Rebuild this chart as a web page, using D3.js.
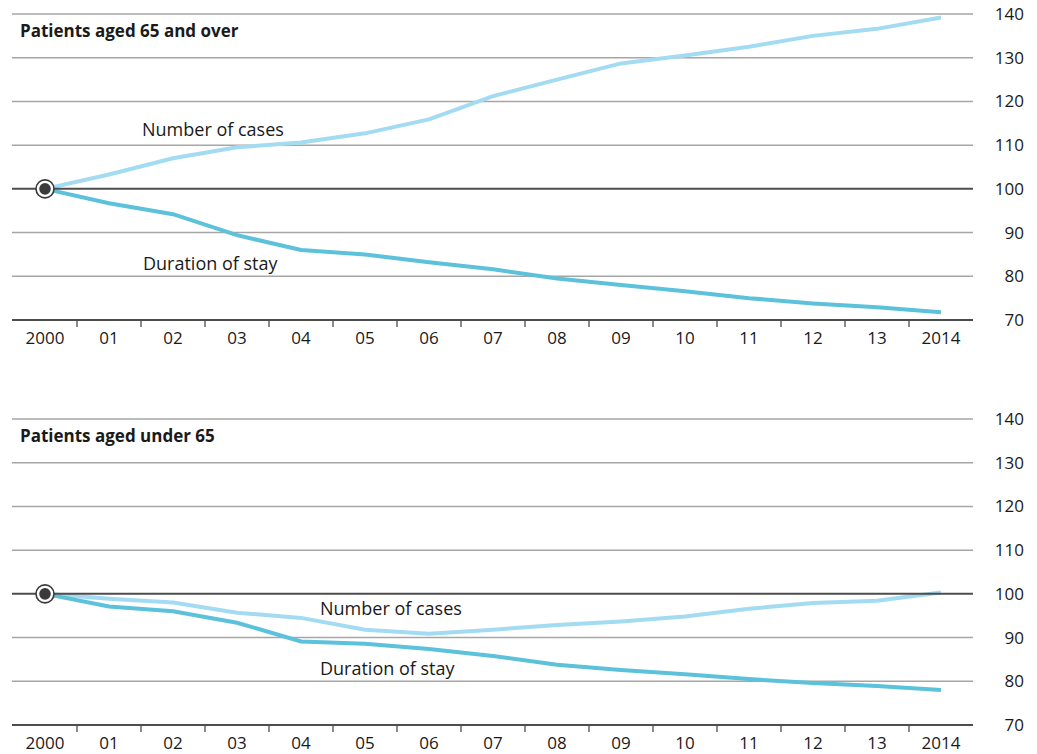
<!DOCTYPE html>
<html><head><meta charset="utf-8">
<script src="https://cdn.jsdelivr.net/npm/d3@7"></script>
<style>body{margin:0;background:#fff}svg{display:block}text{font-family:"Open Sans","Noto Sans",sans-serif;fill:#1a1a1a}</style>
</head><body><svg id="c" width="1037" height="754"></svg>
<script>
const years = ["2000","01","02","03","04","05","06","07","08","09","10","11","12","13","2014"];
const yTicks = [70,80,90,100,110,120,130,140];
const overCases = [100,103.3,107,109.5,110.6,112.7,115.9,121.2,125,128.7,130.5,132.5,135,136.6,139.2];
const overStay  = [100,96.7,94.2,89.4,86,85,83.2,81.6,79.5,78,76.6,75,73.8,72.9,71.8];
const underCases= [100,98.9,98,95.7,94.5,91.8,90.9,91.8,92.9,93.7,94.8,96.6,97.9,98.4,100.3];
const underStay = [100,97.1,96,93.4,89.1,88.6,87.4,85.8,83.8,82.6,81.6,80.5,79.6,78.9,78];
const panels = [
  {title:"Patients aged 65 and over", cases:overCases, stay:overStay, top:14, casesLbl:[142,136], stayLbl:[143,270]},
  {title:"Patients aged under 65", cases:underCases, stay:underStay, top:419, casesLbl:[320,615], stayLbl:[320,675]}
];
const svg = d3.select("#c");
const x = d3.scaleBand().domain(years).range([13,973]).padding(0);
const cx = d => x(d)+x.bandwidth()/2;
panels.forEach(p=>{
  const y = d3.scaleLinear().domain([70,140]).range([p.top+306,p.top]);
  const g = svg.append("g");
  g.selectAll("line.grid").data(yTicks.filter(t=>t!==70 && t!==100)).join("line")
    .attr("x1",12).attr("x2",973).attr("y1",d=>y(d)).attr("y2",d=>y(d))
    .attr("stroke","#a6a6a6").attr("stroke-width",1.5);
  g.selectAll("text.yl").data(yTicks).join("text")
    .attr("x",1024).attr("y",d=>y(d)+6).attr("text-anchor","end")
    .attr("font-size",17).text(d=>d);
  g.append("text").attr("x",20).attr("y",p.top+23).attr("font-size",17).attr("font-weight","bold").text(p.title);
  const line = d3.line().x((d,i)=>cx(years[i])).y(d=>y(d));
  g.append("path").datum(p.cases).attr("d",line).attr("fill","none").attr("stroke","#a3dbf2").attr("stroke-width",4);
  g.append("path").datum(p.stay).attr("d",line).attr("fill","none").attr("stroke","#5cc1da").attr("stroke-width",4);
  g.append("line").attr("x1",12).attr("x2",973).attr("y1",y(100)).attr("y2",y(100)).attr("stroke","#4d4d4d").attr("stroke-width",2);
  const ax = g.append("g").attr("transform",`translate(0,${y(70)})`);
  ax.append("line").attr("x1",12).attr("x2",973).attr("stroke","#4d4d4d").attr("stroke-width",2.2);
  ax.selectAll("line.t").data(years.slice(1)).join("line")
    .attr("x1",d=>x(d)).attr("x2",d=>x(d)).attr("y1",0).attr("y2",7).attr("stroke","#4d4d4d").attr("stroke-width",1.3);
  ax.selectAll("text").data(years).join("text")
    .attr("x",d=>cx(d)).attr("y",24).attr("text-anchor","middle").attr("font-size",17).text(d=>d);
  g.append("text").attr("x",p.casesLbl[0]).attr("y",p.casesLbl[1]).attr("font-size",18).text("Number of cases");
  g.append("text").attr("x",p.stayLbl[0]).attr("y",p.stayLbl[1]).attr("font-size",18).text("Duration of stay");
  g.append("circle").attr("cx",cx(years[0])).attr("cy",y(100)).attr("r",9).attr("fill","#fff").attr("stroke","#3a3a3a").attr("stroke-width",1.6);
  g.append("circle").attr("cx",cx(years[0])).attr("cy",y(100)).attr("r",5.8).attr("fill","#3a3a3a");
});
</script></body></html>
